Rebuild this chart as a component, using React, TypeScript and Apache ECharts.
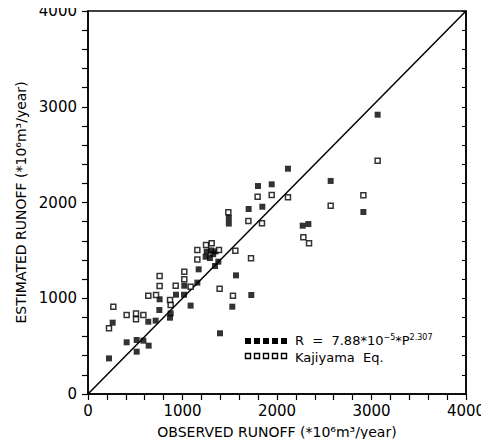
import React, { useEffect, useRef } from "react";
import * as echarts from "echarts";

const axisTicks = [0, 1000, 2000, 3000, 4000];

const regressionPoints: [number, number][] = [
  [222, 372], [261, 745], [409, 540], [515, 442], [515, 564], [586, 557],
  [638, 755], [642, 505], [716, 766], [755, 877], [758, 989], [868, 797],
  [875, 842], [931, 1037], [1016, 1037], [1019, 1131], [1086, 923],
  [1157, 1163], [1171, 1302], [1245, 1434], [1256, 1486], [1300, 1500],
  [1325, 1460], [1350, 1490], [1290, 1420], [1344, 1337], [1379, 1382],
  [1397, 634], [1490, 1780], [1490, 1840], [1527, 912], [1566, 1239],
  [1700, 1932], [1728, 1034], [1799, 2172], [1845, 1956], [1944, 2190],
  [2116, 2353], [2272, 1758], [2332, 1775], [2568, 2225], [2914, 1901],
  [3065, 2917],
];

const kajiyamaPoints: [number, number][] = [
  [222, 686], [268, 912], [409, 825], [508, 842], [508, 780], [586, 825],
  [638, 1027], [720, 1034], [758, 1232], [758, 1128], [868, 982], [875, 930],
  [928, 1131], [1019, 1278], [1019, 1198], [1086, 1121], [1157, 1504],
  [1157, 1406], [1249, 1556], [1309, 1574], [1386, 1504], [1393, 1100],
  [1485, 1897], [1534, 1027], [1559, 1497], [1697, 1807], [1725, 1417],
  [1795, 2061], [1841, 1782], [1944, 2078], [2116, 2054], [2279, 1636],
  [2339, 1574], [2568, 1967], [2914, 2075], [3065, 2437],
];

const identityLine: [number, number][] = [[0, 0], [4000, 4000]];

const xTitle = "OBSERVED RUNOFF (*10\u2076m\u00b3/year)";
const yTitle = "ESTIMATED RUNOFF (*10\u2076m\u00b3/year)";
const legendRegression = "R  =  7.88*10";
const legendKajiyama = "Kajiyama  Eq.";

const FONT = "DejaVu Sans";

export default function App() {
  const ref = useRef<HTMLDivElement>(null);
  useEffect(() => {
    if (!ref.current) return;
    const chart = echarts.init(ref.current, null, { renderer: "svg" });
    const axisCommon = {
      type: "value" as const,
      min: axisTicks[0],
      max: axisTicks[axisTicks.length - 1],
      interval: 1000,
      splitLine: { show: false },
      axisLine: { show: true, lineStyle: { color: "#000", width: 1.5 } },
      minorTick: { show: true, splitNumber: 5, length: 6, lineStyle: { color: "#000", width: 1.2 } },
      axisTick: { show: true, length: 6, lineStyle: { color: "#000", width: 1.2 } },
    };
    const fmt = (v: number) => String(v);
    const sq = 6;
    const legendSquares: any[] = [];
    for (let i = 0; i < 5; i++) {
      legendSquares.push({
        type: "rect",
        shape: { x: 245 + i * 9, y: 338, width: sq, height: sq },
        style: { fill: "#000" },
      });
      legendSquares.push({
        type: "rect",
        shape: { x: 245.5 + i * 9, y: 353.5, width: sq - 1, height: sq - 1 },
        style: { fill: "#fff", stroke: "#000", lineWidth: 1.4 },
      });
    }
    chart.setOption({
      animation: false,
      backgroundColor: "#fff",
      grid: { left: 88, right: 23, top: 11, bottom: 53, show: true, borderColor: "#000", borderWidth: 1.5 },
      xAxis: [
        {
          ...axisCommon,
          position: "bottom",
          name: xTitle,
          nameLocation: "middle",
          nameGap: 31,
          nameTextStyle: { fontFamily: FONT, fontSize: 14, color: "#000" },
          axisLabel: { fontFamily: FONT, fontSize: 15, color: "#000", margin: 9, formatter: fmt },
        },
      ],
      yAxis: [
        {
          ...axisCommon,
          position: "left",
          name: yTitle,
          nameLocation: "middle",
          nameGap: 59,
          nameTextStyle: { fontFamily: FONT, fontSize: 14, color: "#000" },
          axisLabel: { fontFamily: FONT, fontSize: 15, color: "#000", margin: 11, formatter: fmt },
        },
        {
          ...axisCommon,
          position: "right",
          axisLabel: { show: false },
          axisTick: { show: true, inside: true, length: 4, lineStyle: { color: "#000", width: 1 } },
          minorTick: { show: true, inside: true, splitNumber: 5, length: 4, lineStyle: { color: "#000", width: 1 } },
        },
      ],
      series: [
        {
          type: "line",
          data: identityLine,
          showSymbol: false,
          symbol: "none",
          lineStyle: { color: "#000", width: 1.5 },
          silent: true,
          z: 1,
        },
        {
          name: "Kajiyama Eq.",
          type: "scatter",
          data: kajiyamaPoints,
          symbol: "rect",
          symbolSize: 5,
          itemStyle: { color: "#fff", borderColor: "#000", borderWidth: 1.5 },
          z: 3,
        },
        {
          name: "R = 7.88*10^-5*P^2.307",
          type: "scatter",
          data: regressionPoints,
          symbol: "rect",
          symbolSize: 6,
          itemStyle: { color: "#000" },
          z: 2,
        },
      ],
      graphic: [
        ...legendSquares,
        {
          type: "text",
          left: 295,
          top: 333,
          style: {
            text: "{n|" + legendRegression + "}{s|\u22125}{n|*P}{s|2.307}",
            rich: {
              n: { fontFamily: FONT, fontSize: 13, fill: "#000", verticalAlign: "bottom", lineHeight: 14 },
              s: { fontFamily: FONT, fontSize: 8, fill: "#000", verticalAlign: "top", lineHeight: 14, padding: [0, 0, 6, 0] },
            },
          },
        },
        {
          type: "text",
          left: 295,
          top: 351,
          style: { text: legendKajiyama, fontFamily: FONT, fontSize: 13, fill: "#000" },
        },
      ],
    });
    return () => chart.dispose();
  }, []);
  return <div ref={ref} style={{ width: 489, height: 447, margin: -8 }} />;
}
